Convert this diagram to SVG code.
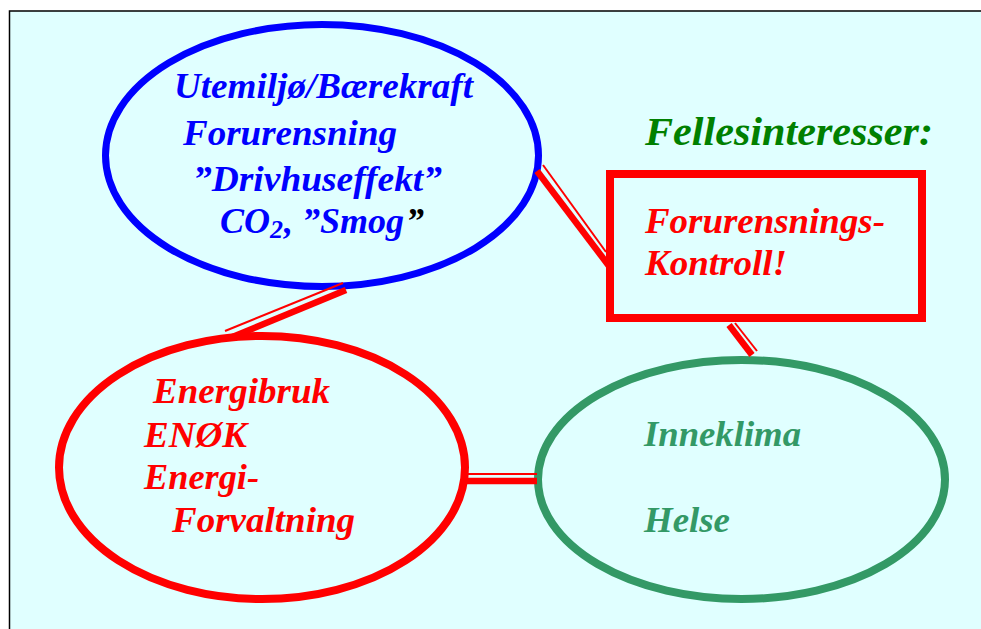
<svg xmlns="http://www.w3.org/2000/svg" width="981" height="629" viewBox="0 0 981 629">
<style>
text{font-family:"Liberation Serif","Times New Roman",serif;font-weight:bold;font-style:italic;font-size:36px}
.blue{fill:#0000ff}
.red{fill:#ff0000}
.sea{fill:#339966}
.thick{stroke:#ff0000;stroke-width:6.5;fill:none}
.thin{stroke:#ff0000;stroke-width:2;fill:none}
</style>
<rect x="0" y="0" width="981" height="629" fill="#ffffff"/>
<rect x="10" y="11" width="971" height="618" fill="#e0ffff"/>
<path d="M9.5 629 V11 H981" fill="none" stroke="#000" stroke-width="1.5"/>

<g id="node-utemiljo">
<ellipse cx="322" cy="155.5" rx="216.5" ry="131" fill="none" stroke="#0000ff" stroke-width="7"/>
<text class="blue" x="174" y="98" textLength="299" lengthAdjust="spacingAndGlyphs">Utemiljø/Bærekraft</text>
<text class="blue" x="183" y="145" textLength="214" lengthAdjust="spacingAndGlyphs">Forurensning</text>
<text class="blue" x="193" y="191" textLength="249" lengthAdjust="spacingAndGlyphs">”Drivhuseffekt”</text>
<text class="blue" x="220" y="233">CO<tspan font-size="26" dy="5">2</tspan><tspan dy="-5" dx="1">, ”Smog</tspan><tspan fill="#000" dx="2">”</tspan></text>
</g>

<g id="label-fellesinteresser">
<text x="645" y="145" fill="#008000" textLength="288" lengthAdjust="spacingAndGlyphs" style="font-size:40px">Fellesinteresser:</text>
</g>

<g id="node-kontroll">
<rect x="610" y="174" width="312" height="144" fill="none" stroke="#ff0000" stroke-width="8"/>
<text class="red" x="645" y="233" textLength="240" lengthAdjust="spacingAndGlyphs">Forurensnings-</text>
<text class="red" x="645" y="275" textLength="142" lengthAdjust="spacingAndGlyphs">Kontroll!</text>
</g>

<g id="node-energi">
<ellipse cx="262" cy="467.5" rx="203" ry="131.5" fill="none" stroke="#ff0000" stroke-width="8"/>
<text class="red" x="153" y="403" textLength="177" lengthAdjust="spacingAndGlyphs">Energibruk</text>
<text class="red" x="144" y="447" textLength="103" lengthAdjust="spacingAndGlyphs">ENØK</text>
<text class="red" x="144" y="489" textLength="115" lengthAdjust="spacingAndGlyphs">Energi-</text>
<text class="red" x="172" y="532" textLength="183" lengthAdjust="spacingAndGlyphs">Forvaltning</text>
</g>

<g id="node-inneklima">
<ellipse cx="741.5" cy="479.5" rx="203.5" ry="119.5" fill="none" stroke="#339966" stroke-width="8"/>
<text class="sea" x="644" y="446" textLength="157" lengthAdjust="spacingAndGlyphs">Inneklima</text>
<text class="sea" x="644" y="532" textLength="86" lengthAdjust="spacingAndGlyphs">Helse</text>
</g>

<g id="connectors">
<line class="thick" x1="346" y1="290" x2="230" y2="338"/>
<line class="thin" x1="343" y1="283" x2="225" y2="331"/>
<line class="thick" x1="537" y1="171" x2="609" y2="266"/>
<line class="thin" x1="543" y1="165" x2="606" y2="252"/>
<line class="thick" x1="467" y1="481" x2="537" y2="481"/>
<line class="thin" x1="467" y1="474" x2="537" y2="474"/>
<line class="thick" x1="729" y1="325" x2="752" y2="355"/>
<line class="thin" x1="735" y1="323" x2="757" y2="351"/>
</g>
</svg>
